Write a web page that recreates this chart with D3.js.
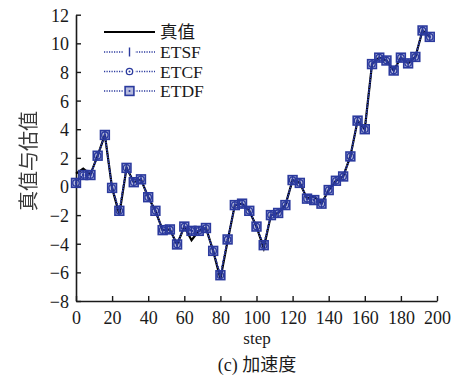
<!DOCTYPE html>
<html>
<head>
<meta charset="utf-8">
<script src="https://cdn.jsdelivr.net/npm/d3@7"></script>
<style>
  html, body { margin: 0; padding: 0; background: #fff; }
  svg { display: block; }
  .ytitle { filter: grayscale(100%); }
</style>
</head>
<body>
<svg id="chart" width="462" height="378"></svg>
<script>
// sample positions (step)
const steps = [0,4,8,12,16,20,24,28,32,36,40,44,48,52,56,60,64,68,72,76,
               80,84,88,92,96,100,104,108,112,116,120,124,128,132,136,140,144,148,152,156,
               160,164,168,172,176,180,184,188,192,196];

// true acceleration
const truth = [0.9,1.25,0.85,2.15,3.6,-0.1,-1.95,1.3,0.3,0.5,-0.75,-1.7,-3.05,-3.0,-4.05,-2.8,-3.75,-3.1,-2.9,-4.5,
               -6.45,-3.8,-1.3,-1.2,-1.7,-2.8,-4.3,-2.0,-1.85,-1.3,0.45,0.25,-0.85,-0.7,-1.2,-0.25,0.4,0.7,2.1,4.6,
               4.0,8.55,9.0,8.8,8.1,9.0,8.6,9.05,10.9,10.45];

// filter estimates
const etsf = [0.25,0.8,0.8,2.15,3.6,-0.1,-1.7,1.3,0.3,0.5,-0.75,-1.7,-3.05,-3.0,-4.05,-2.8,-3.1,-3.1,-2.9,-4.5,
              -6.2,-3.7,-1.3,-1.2,-1.7,-2.8,-4.1,-2.0,-1.85,-1.3,0.45,0.25,-0.85,-0.95,-1.2,-0.25,0.4,0.7,2.1,4.6,
              4.0,8.55,9.0,8.8,8.1,9.0,8.6,9.05,10.9,10.45];
const etcf = [0.25,0.8,0.8,2.15,3.6,-0.1,-1.7,1.3,0.3,0.5,-0.75,-1.7,-3.05,-3.0,-4.05,-2.8,-3.1,-3.1,-2.9,-4.5,
              -6.2,-3.7,-1.3,-1.2,-1.7,-2.8,-4.1,-2.0,-1.85,-1.3,0.45,0.25,-0.85,-0.95,-1.2,-0.25,0.4,0.7,2.1,4.6,
              4.0,8.55,9.0,8.8,8.1,9.0,8.6,9.05,10.9,10.45];
const etdf = [0.25,0.8,0.8,2.15,3.6,-0.1,-1.7,1.3,0.3,0.5,-0.75,-1.7,-3.05,-3.0,-4.05,-2.8,-3.1,-3.1,-2.9,-4.5,
              -6.2,-3.7,-1.3,-1.2,-1.7,-2.8,-4.1,-2.0,-1.85,-1.3,0.45,0.25,-0.85,-0.95,-1.2,-0.25,0.4,0.7,2.1,4.6,
              4.0,8.55,9.0,8.8,8.1,9.0,8.6,9.05,10.9,10.45];

const xTicks = [0,20,40,60,80,100,120,140,160,180,200];
const yTicks = [-8,-6,-4,-2,0,2,4,6,8,10,12];
const legendLabels = ["真值", "ETSF", "ETCF", "ETDF"];
const xLabel = "step";
const yLabel = "真值与估值";
const caption = "(c) 加速度";

const SERIF = "Liberation Serif, Times New Roman, serif";
const CJK = "Noto Sans CJK SC, sans-serif";
const blue = "#2b3a9e";
const ink = "#1a1a1a";

const svg = d3.select("#chart");
const x = d3.scaleLinear().domain([0, 200]).range([76, 437]);
const y = d3.scaleLinear().domain([-8, 12]).range([301, 14.7]);

// axes: left and bottom only, ticks pointing inward
const fmt = d => d < 0 ? "\u2212" + Math.abs(d) : String(d);
const xAxis = svg.append("g").attr("transform", `translate(0,${y(-8)})`)
  .call(d3.axisBottom(x).tickValues(xTicks).tickSizeInner(-5).tickSizeOuter(0).tickPadding(10).tickFormat(fmt));
const yAxis = svg.append("g").attr("transform", `translate(${x(0)},0)`)
  .call(d3.axisLeft(y).tickValues(yTicks).tickSizeInner(-5).tickSizeOuter(0).tickPadding(7).tickFormat(fmt));
[xAxis, yAxis].forEach(g => {
  g.attr("font-family", SERIF).attr("font-size", 18);
  g.select(".domain").attr("stroke", ink).attr("stroke-width", 1.6);
  g.selectAll(".tick line").attr("stroke", ink).attr("stroke-width", 1.4);
  g.selectAll("text").attr("fill", ink);
});
yAxis.selectAll("text").attr("dy", "0.36em");

// axis titles and caption
svg.append("text").attr("x", 257).attr("y", 344).attr("text-anchor", "middle")
  .attr("font-family", SERIF).attr("font-size", 17).attr("fill", ink).text(xLabel);
svg.append("text").attr("class", "ytitle").attr("transform", `translate(29,161) rotate(-90)`)
  .attr("text-anchor", "middle").attr("dy", "0.36em").attr("font-size", 20).attr("fill", "#3a3a3a")
  .attr("font-family", CJK).text(yLabel);
const cap = svg.append("text").attr("x", 257).attr("y", 371).attr("text-anchor", "middle")
  .attr("font-size", 18).attr("fill", ink);
cap.append("tspan").attr("font-family", SERIF).text(caption.slice(0, 4));
cap.append("tspan").attr("font-family", CJK).text(caption.slice(4));

const line = d3.line().x((d, i) => x(steps[i])).y(d => y(d));

// marker painters
function markSF(g, cx, cy) {
  g.append("line").attr("x1", cx).attr("x2", cx).attr("y1", cy - 4.5).attr("y2", cy + 4.5)
    .attr("stroke", blue).attr("stroke-width", 1.4);
}
function markCF(g, cx, cy) {
  g.append("circle").attr("cx", cx).attr("cy", cy).attr("r", 3.2)
    .attr("fill", "none").attr("stroke", blue).attr("stroke-width", 1.3);
  g.append("circle").attr("cx", cx).attr("cy", cy).attr("r", 1).attr("fill", blue);
}
function markDF(g, cx, cy) {
  g.append("rect").attr("x", cx - 4.4).attr("y", cy - 4.4).attr("width", 8.8).attr("height", 8.8)
    .attr("fill", "rgba(43,58,158,0.35)").attr("stroke", blue).attr("stroke-width", 1.6);
  g.append("circle").attr("cx", cx).attr("cy", cy).attr("r", 1).attr("fill", blue);
}

// true value
svg.append("path").datum(truth).attr("d", line)
  .attr("fill", "none").attr("stroke", "#000").attr("stroke-width", 2.2);

// estimated series: dotted lines with markers
const series = [[etsf, markSF], [etcf, markCF], [etdf, markDF]];
series.forEach(([vals]) => {
  svg.append("path").datum(vals).attr("d", line)
    .attr("fill", "none").attr("stroke", blue).attr("stroke-width", 1.4)
    .attr("stroke-dasharray", "1.2,1.3");
});
[series[2], series[1], series[0]].forEach(([vals, mark]) => {
  const g = svg.append("g");
  vals.forEach((v, i) => mark(g, x(steps[i]), y(v)));
});

// legend
const lg = svg.append("g");
const rowY = [32, 52, 71.5, 91];
const lx0 = 104, lx1 = 155;
legendLabels.forEach((lab, i) => {
  const ly = rowY[i];
  if (i === 0) {
    lg.append("line").attr("x1", lx0).attr("x2", lx1).attr("y1", ly).attr("y2", ly)
      .attr("stroke", "#000").attr("stroke-width", 2.2);
  } else {
    lg.append("line").attr("x1", lx0).attr("x2", lx1).attr("y1", ly).attr("y2", ly)
      .attr("stroke", blue).attr("stroke-width", 1.4).attr("stroke-dasharray", "1.2,1.3");
    const cx = (lx0 + lx1) / 2;
    lg.append("rect").attr("x", cx - 5.5).attr("y", ly - 5.5).attr("width", 11).attr("height", 11).attr("fill", "#fff");
    series[i - 1][1](lg, cx, ly);
  }
  lg.append("text").attr("x", 160).attr("y", ly).attr("dy", "0.35em")
    .attr("font-size", 17.5).attr("fill", ink)
    .attr("font-family", i === 0 ? CJK : SERIF)
    .text(lab);
});
</script>
</body>
</html>
